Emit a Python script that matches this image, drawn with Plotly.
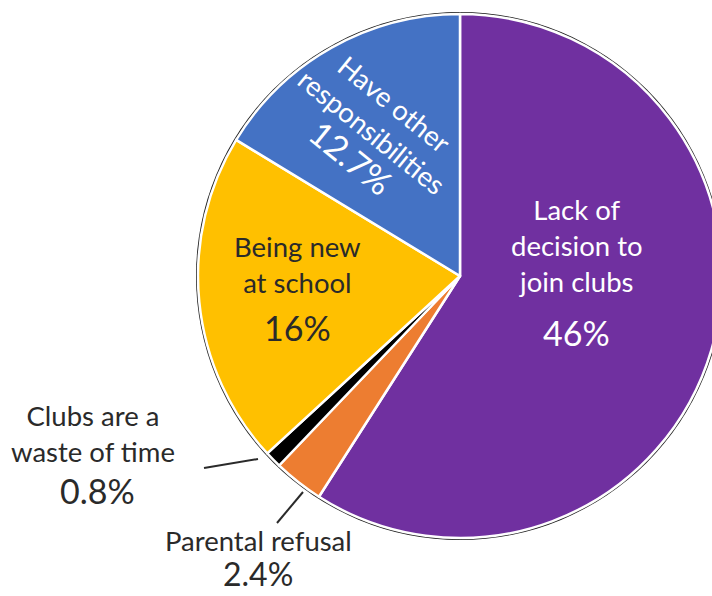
import plotly.graph_objects as go

# ---- data ----
labels = ["Lack of decision to join clubs", "Parental refusal", "Clubs are a waste of time",
          "Being new at school", "Have other responsibilities"]
display_labels = ["Lack of<br>decision to<br>join clubs", "Parental refusal", "Clubs are a<br>waste of time",
                  "Being new<br>at school", "Have other<br>responsibilities"]
values = [46, 2.4, 0.8, 16, 12.7]
colors = ["#7030A0", "#ED7D31", "#000000", "#FFC000", "#4472C4"]

W, H = 740, 596
FONT = "Lato"
DARK = "#2a2a2a"

def px(x): return x / W
def py(y): return 1 - y / H

cx, cy, r = 460, 276, 262

fig = go.Figure()
# dark outline behind the pie
fig.add_trace(go.Pie(values=[1], marker=dict(colors=["#1e1e1e"]), textinfo="none", hoverinfo="skip",
                     sort=False, showlegend=False,
                     domain=dict(x=[px(cx - r - 2), px(cx + r + 2)], y=[py(cy + r + 2), py(cy - r - 2)])))
fig.add_trace(go.Pie(labels=labels, values=values, sort=False, direction="clockwise", rotation=0,
                     marker=dict(colors=colors, line=dict(color="white", width=2.5)),
                     textinfo="none", hoverinfo="label+percent", showlegend=False,
                     domain=dict(x=[px(cx - r), px(cx + r)], y=[py(cy + r), py(cy - r)])))

def pct(v):
    return f"{v:g}%"

LBL = 27.5
PCT = 34
ann = []
# Lack of decision
ann.append(dict(x=px(577), y=py(245), text=display_labels[0], font=dict(size=LBL, color="white")))
ann.append(dict(x=px(576), y=py(332), text=pct(values[0]), font=dict(size=PCT, color="white")))
# Being new at school
ann.append(dict(x=px(297), y=py(264), text=display_labels[3], font=dict(size=LBL, color=DARK)))
ann.append(dict(x=px(297), y=py(327), text=pct(values[3]), font=dict(size=PCT, color=DARK)))
# Have other responsibilities (rotated)
ann.append(dict(x=px(371), y=py(132),
                text=display_labels[4] + f"<br><span style='font-size:{PCT}px'>{pct(values[4])}</span>",
                font=dict(size=LBL, color="white"), textangle=39))
# Clubs are a waste of time
ann.append(dict(x=px(93), y=py(433), text=display_labels[2], font=dict(size=LBL, color=DARK)))
ann.append(dict(x=px(97), y=py(490), text=pct(values[2]), font=dict(size=PCT, color=DARK)))
# Parental refusal
ann.append(dict(x=px(258), y=py(540), text=display_labels[1], font=dict(size=LBL, color=DARK)))
ann.append(dict(x=px(258), y=py(573), text=pct(values[1]), font=dict(size=32, color=DARK)))
for a in ann:
    a.update(xref="paper", yref="paper", showarrow=False, xanchor="center", yanchor="middle")

shapes = [
    dict(type="line", xref="paper", yref="paper", x0=px(204), y0=py(468), x1=px(258), y1=py(459),
         line=dict(color=DARK, width=2)),
    dict(type="line", xref="paper", yref="paper", x0=px(277), y0=py(523), x1=px(303), y1=py(492),
         line=dict(color=DARK, width=2)),
]

fig.update_layout(width=W, height=H, margin=dict(l=0, r=0, t=0, b=0),
                  paper_bgcolor="white", plot_bgcolor="white",
                  font=dict(family=FONT, color=DARK),
                  annotations=ann, shapes=shapes, showlegend=False)

fig.write_html("out.html", config={"displayModeBar": False},
               post_script="document.documentElement.style.overflow='hidden';"
                           "document.body.style.margin='0';document.body.style.overflow='hidden';")
